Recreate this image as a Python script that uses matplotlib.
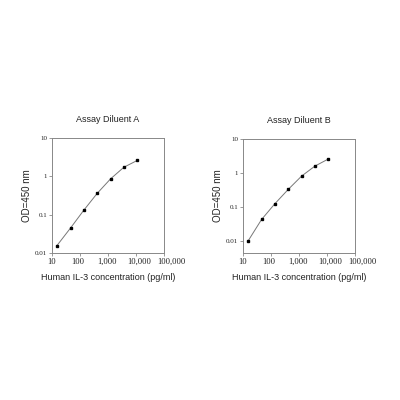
import matplotlib
matplotlib.use("Agg")
import matplotlib.pyplot as plt
import matplotlib.transforms as mtransforms
from matplotlib.ticker import FixedLocator, FixedFormatter, NullLocator

conc = [15, 46, 137, 412, 1235, 3704, 11111]
od_a = [0.0156, 0.045, 0.131, 0.36, 0.86, 1.73, 2.6]
od_b = [0.0102, 0.044, 0.127, 0.334, 0.82, 1.61, 2.59]
titles = ["Assay Diluent A", "Assay Diluent B"]
xticks = [10, 100, 1000, 10000, 100000]
xticklabels = ["10", "100", "1,000", "10,000", "100,000"]
yticks = [0.01, 0.1, 1, 10]
yticklabels = ["0.01", "0.1", "1", "10"]
xlabel = "Human IL-3 concentration (pg/ml)"
ylabel = "OD=450 nm"

# small horizontal nudges (pixels) of x tick labels, as in the original render
label_nudge = [0, -2.5, -1, 3, 7]

fig = plt.figure(figsize=(4, 4), dpi=100)
fig.patch.set_facecolor("white")

specs = [
    (od_a, [0.13, 0.3675, 0.28, 0.2875], (0.01, 10)),
    (od_b, [0.6075, 0.3675, 0.28, 0.285], (0.0046, 10)),
]
for (od, pos, ylim), title in zip(specs, titles):
    ax = fig.add_axes(pos)
    ax.plot(conc, od, color="#777777", lw=0.7, marker="s", ms=2.0,
            mfc="black", mec="black")
    ax.set_xscale("log")
    ax.set_yscale("log")
    ax.set_xlim(10, 100000)
    ax.set_ylim(*ylim)
    ax.xaxis.set_major_locator(FixedLocator(xticks))
    ax.xaxis.set_major_formatter(FixedFormatter(xticklabels))
    ax.yaxis.set_major_locator(FixedLocator(yticks))
    ax.yaxis.set_major_formatter(FixedFormatter(yticklabels))
    ax.xaxis.set_minor_locator(NullLocator())
    ax.yaxis.set_minor_locator(NullLocator())
    for s in ax.spines.values():
        s.set_color("#888888")
        s.set_linewidth(0.7)
    ax.tick_params(axis="both", direction="out", length=2, width=0.6,
                   color="#888888", pad=1.5)
    for lab in ax.get_xticklabels():
        lab.set_fontfamily("Liberation Serif")
        lab.set_fontsize(6.2)
        lab.set_color("#222222")
    for lab in ax.get_yticklabels():
        lab.set_fontfamily("Liberation Serif")
        lab.set_fontsize(5)
        lab.set_color("#222222")
    for tick, dx in zip(ax.xaxis.get_major_ticks(), label_nudge):
        lab = tick.label1
        lab.set_transform(lab.get_transform() +
                          mtransforms.ScaledTranslation(dx / 100.0, 0,
                                                        fig.dpi_scale_trans))
    ax.set_title(title, fontfamily="Liberation Sans", fontsize=6.5,
                 color="#222222", pad=11.5)
    ax.set_xlabel(xlabel, fontfamily="Liberation Sans", fontsize=6.5,
                  color="#222222", labelpad=5.5)
    ax.set_ylabel(ylabel, fontfamily="Liberation Sans", fontsize=7,
                  color="#222222", labelpad=2)

fig.savefig("out.png", dpi=100, facecolor="white")
